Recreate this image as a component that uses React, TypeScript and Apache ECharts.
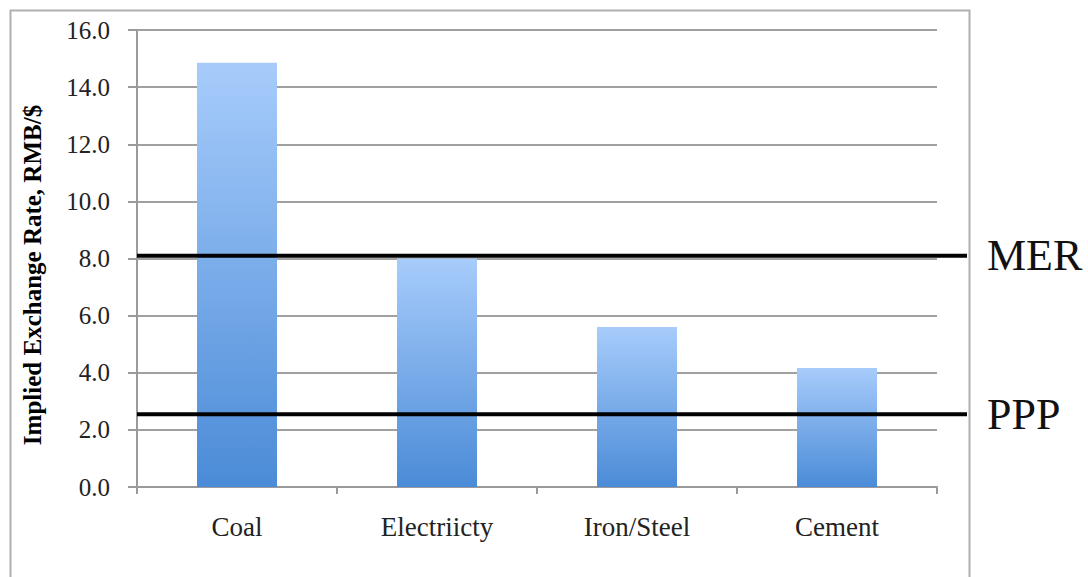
import React, { useEffect, useRef } from "react";
import * as echarts from "echarts";

const categories = ["Coal", "Electriicty", "Iron/Steel", "Cement"];
const rateValues = [14.85, 8.0, 5.6, 4.17];
const yTicks = { min: 0, max: 16, interval: 2 };
const refNames = ["MER", "PPP"];
const refValues = [8.1, 2.55];
const yAxisTitle = "Implied Exchange Rate, RMB/$";

const SERIF = "'Liberation Serif', 'DejaVu Serif', serif";

export default function App() {
  const ref = useRef<HTMLDivElement>(null);
  useEffect(() => {
    if (!ref.current) return;
    const chart = echarts.init(ref.current, undefined, { renderer: "svg" });
    const refSeries = refNames.map((name, i) => ({
      name,
      type: "line",
      xAxisIndex: 1,
      yAxisIndex: 1,
      data: [
        [0, refValues[i]],
        [1, refValues[i]],
      ],
      symbol: "none",
      silent: true,
      z: 5,
      lineStyle: {
        color: "#000",
        width: 4,
        cap: "butt",
      },
      endLabel: {
        show: true,
        formatter: name,
        distance: 20,
        fontFamily: SERIF,
        fontSize: 44,
        color: "#111",
      },
    }));
    chart.setOption({
      animation: false,
      backgroundColor: "#fff",
      graphic: [
        {
          type: "rect",
          left: 8,
          top: 8,
          shape: { x: 0, y: 0, width: 959, height: 620 },
          style: { fill: "none", stroke: "#b0b0b0", lineWidth: 2 },
          z: 0,
        },
        {
          type: "text",
          x: 32,
          y: 275,
          rotation: Math.PI / 2,
          style: {
            text: yAxisTitle,
            fontFamily: SERIF,
            fontWeight: "bold",
            fontSize: 25,
            fill: "#000",
            align: "center",
            verticalAlign: "middle",
          },
        },
      ],
      grid: [
        { left: 137, top: 30, width: 800, height: 457, containLabel: false },
        { left: 137, top: 30, width: 830, height: 457, containLabel: false },
      ],
      xAxis: [
        {
          type: "category",
          gridIndex: 0,
          data: categories,
          boundaryGap: true,
          axisLine: { lineStyle: { color: "#9a9a9a", width: 2 } },
          axisTick: { show: true, length: 7, alignWithLabel: false, lineStyle: { color: "#9a9a9a", width: 2 } },
          axisLabel: { margin: 26, fontFamily: SERIF, fontSize: 27, color: "#222" },
        },
        { type: "value", gridIndex: 1, min: 0, max: 1, show: false },
      ],
      yAxis: [
        {
          type: "value",
          gridIndex: 0,
          min: yTicks.min,
          max: yTicks.max,
          interval: yTicks.interval,
          axisLine: { show: true, lineStyle: { color: "#9a9a9a", width: 2 } },
          axisTick: { show: true, length: 9, lineStyle: { color: "#9a9a9a", width: 2 } },
          splitLine: { lineStyle: { color: "#a0a0a0", width: 2 } },
          axisLabel: {
            margin: 27,
            fontFamily: SERIF,
            fontSize: 25,
            color: "#222",
            formatter: (v: number) => v.toFixed(1),
          },
        },
        { type: "value", gridIndex: 1, min: yTicks.min, max: yTicks.max, show: false },
      ],
      series: [
        {
          name: "Implied Exchange Rate",
          type: "bar",
          xAxisIndex: 0,
          yAxisIndex: 0,
          data: rateValues,
          barWidth: 80,
          z: 3,
          itemStyle: {
            color: new echarts.graphic.LinearGradient(0, 0, 0, 1, [
              { offset: 0, color: "#a7ccfb" },
              { offset: 1, color: "#4b8bd7" },
            ]),
          },
        },
        ...refSeries,
      ],
    });
    return () => chart.dispose();
  }, []);
  return (
    <div
      ref={ref}
      style={{ position: "absolute", left: 0, top: 0, width: 1088, height: 577 }}
    />
  );
}
